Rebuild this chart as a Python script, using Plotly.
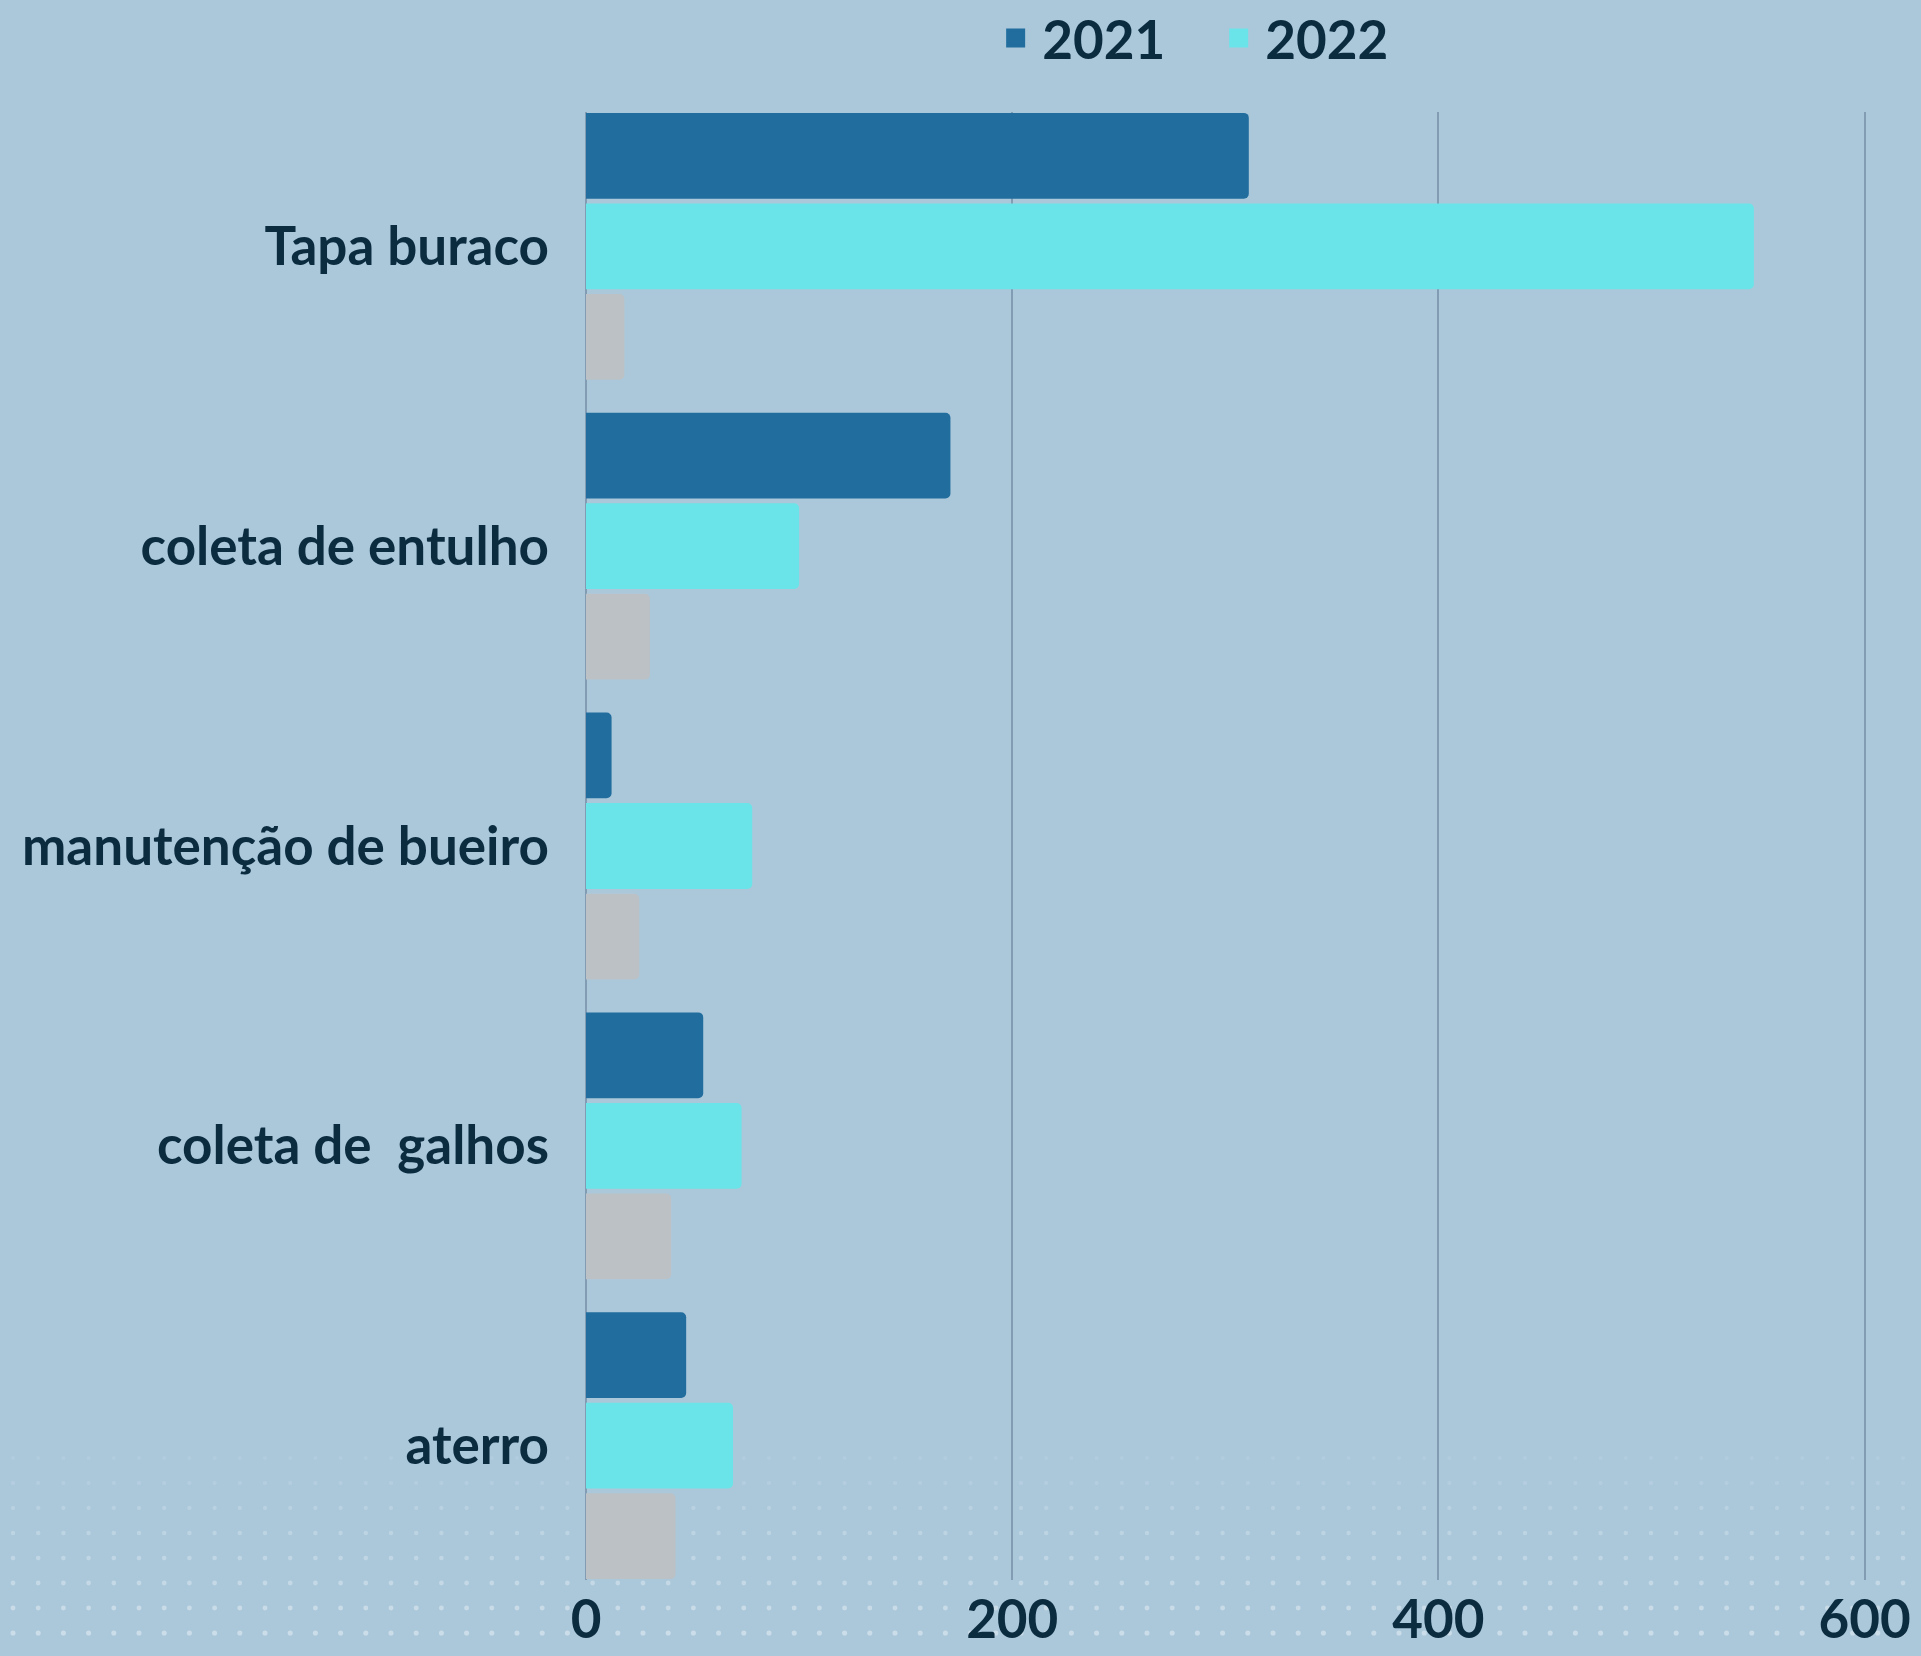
import base64
import plotly.graph_objects as go

# ---- data ----
categories = ["Tapa buraco", "coleta de entulho", "manutenção de bueiro", "coleta de  galhos", "aterro"]
values_2021 = [311, 171, 12, 55, 47]
values_2022 = [548, 100, 78, 73, 69]
values_other = [18, 30, 25, 40, 42]
series_names = ["2021", "2022"]
x_ticks = [0, 200, 400, 600]

# ---- style ----
W, H = 1921, 1656
ML, MR, MT, MB = 586, 55, 112, 76
BG = "#abc8db"
C2021 = "#216d9d"
C2022 = "#6ae4e8"
CGREY = "#bbc1c5"
TXT = "#0b2b3e"
GRID = "#819cb3"
FONT = "Lato"
FS = 53

fig = go.Figure()
for name, vals, col in [(series_names[0], values_2021, C2021),
                        (series_names[1], values_2022, C2022),
                        ("", values_other, CGREY)]:
    fig.add_trace(go.Bar(y=categories, x=vals, orientation="h", name=name,
                         marker=dict(color=col, line=dict(width=0), cornerradius=5),
                         showlegend=False, hoverinfo="x+y"))

# legend entries with bigger square symbols
for name, col in [(series_names[0], C2021), (series_names[1], C2022)]:
    fig.add_trace(go.Scatter(x=[None], y=[None], mode="markers", name="\u2009" + name,
                             marker=dict(symbol="square", size=16, color=col,
                                         line=dict(width=3, color=col)),
                             showlegend=True))

# decorative dot pattern background (svg)
pw, ph = W, H
dots = []
y = 1458
row = 0
while y < H:
    op = min(0.38, 0.08 + 0.045 * row)
    r = 2.0 + 0.08 * row
    x = 13.0
    while x < W:
        dots.append(f'<circle cx="{x:.1f}" cy="{y}" r="{r:.2f}" fill="#ffffff" fill-opacity="{op:.2f}"/>')
        x += 25.2
    y += 25
    row += 1
svg = f'<svg xmlns="http://www.w3.org/2000/svg" width="{pw}" height="{ph}" viewBox="0 0 {pw} {ph}">' + "".join(dots) + "</svg>"
src = "data:image/svg+xml;base64," + base64.b64encode(svg.encode()).decode()
plot_w = W - ML - MR
plot_h = H - MT - MB
fig.add_layout_image(dict(source=src, xref="paper", yref="paper",
                          x=-ML / plot_w, y=1 + MT / plot_h,
                          sizex=W / plot_w, sizey=H / plot_h,
                          xanchor="left", yanchor="top", sizing="stretch",
                          layer="below", opacity=1))

n = len(categories)
pad = 0.448
fig.update_layout(
    width=W, height=H,
    margin=dict(l=ML, r=MR, t=MT, b=MB, pad=0, autoexpand=False),
    paper_bgcolor=BG, plot_bgcolor="rgba(0,0,0,0)",
    barmode="group", bargap=0.094, bargroupgap=0.053,
    font=dict(family=FONT, color=TXT, size=FS, weight=700),
    showlegend=True,
    legend=dict(orientation="h", xref="container", yref="container",
                x=0.5183, y=1 - 38 / H, xanchor="left", yanchor="middle",
                font=dict(size=FS, color=TXT, family=FONT, weight=700),
                bgcolor="rgba(0,0,0,0)", entrywidth=178, entrywidthmode="pixels",
                itemclick=False, itemdoubleclick=False),
    xaxis=dict(range=[0, 600.6], tickvals=x_ticks, ticktext=[str(v) for v in x_ticks],
               showgrid=True, gridcolor=GRID, gridwidth=1.5,
               zeroline=True, zerolinecolor=GRID, zerolinewidth=1.5,
               showline=False, ticks="", ticklabelstandoff=4, automargin=False,
               tickfont=dict(size=FS, color=TXT, family=FONT, weight=700),
               fixedrange=True),
    yaxis=dict(type="category", categoryorder="array", categoryarray=categories,
               range=[n - 1 + pad, -pad], showgrid=False, zeroline=False,
               showline=False, ticks="", ticklabelstandoff=36, automargin=False,
               tickfont=dict(size=FS, color=TXT, family=FONT, weight=700),
               fixedrange=True),
)

fig.write_html("out.html", post_script="document.body.style.margin='0';",
               config={"displayModeBar": False})
